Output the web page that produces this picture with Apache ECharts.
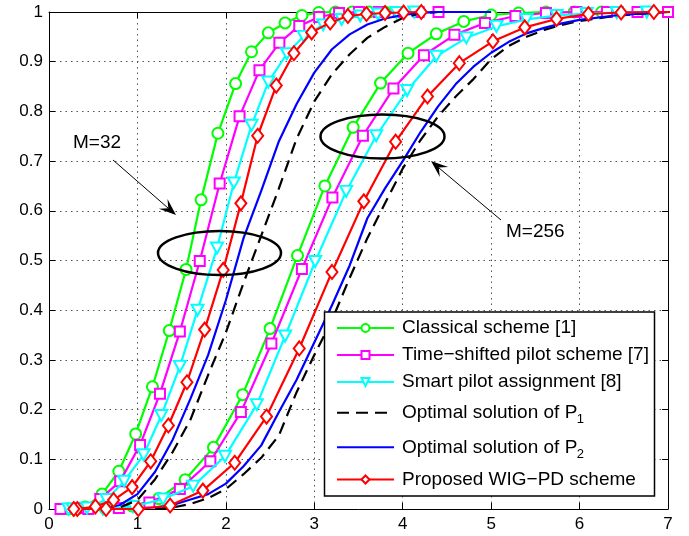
<!DOCTYPE html>
<html>
<head>
<meta charset="utf-8">
<script src="https://cdn.jsdelivr.net/npm/echarts@6/dist/echarts.min.js"></script>
<style>
html,body{margin:0;padding:0;background:#fff;}
#c{width:689px;height:536px;}
</style>
</head>
<body>
<div id="c"></div>
<script>
// ---- Data (x, CDF) ----
const names = [
  'Classical scheme [1]',
  'Time\u2212shifted pilot scheme [7]',
  'Smart pilot assignment [8]',
  'Optimal solution of P',
  'Optimal solution of P ',
  'Proposed WIG\u2212PD scheme'
];
const subscripts = ['', '', '', '1', '2', ''];
const xTicks = [0, 1, 2, 3, 4, 5, 6, 7];
const yTicks = [0, 0.1, 0.2, 0.3, 0.4, 0.5, 0.6, 0.7, 0.8, 0.9, 1];

// M = 32
const green32 = [[0.22,0],[0.41,0.004],[0.60,0.03],[0.79,0.076],[0.98,0.151],[1.17,0.246],[1.36,0.359],[1.55,0.482],[1.72,0.622],[1.91,0.756],[2.11,0.856],[2.29,0.92],[2.48,0.958],[2.67,0.978],[2.86,0.993],[3.05,0.999],[3.24,1],[3.43,1],[3.62,1],[3.80,1]];
const magenta32 = [[0.13,0],[0.355,0.002],[0.58,0.02],[0.805,0.056],[1.03,0.129],[1.255,0.232],[1.48,0.357],[1.705,0.499],[1.93,0.655],[2.155,0.79],[2.38,0.883],[2.605,0.938],[2.83,0.972],[3.055,0.99],[3.28,0.998],[3.505,1],[3.73,1],[3.955,1],[4.18,1],[4.405,1]];
const cyan32 = [[0.22,0],[0.43,0.002],[0.65,0.019],[0.85,0.056],[1.07,0.109],[1.27,0.188],[1.48,0.287],[1.68,0.40],[1.90,0.525],[2.09,0.656],[2.29,0.772],[2.48,0.859],[2.69,0.916],[2.88,0.951],[3.10,0.974],[3.31,0.985],[3.52,0.992],[3.72,0.996],[3.93,0.999],[4.13,1]];
const black32 = [[0.6,0],[0.8,0.003],[1.0,0.018],[1.2,0.06],[1.4,0.115],[1.6,0.18],[1.8,0.27],[2.0,0.355],[2.2,0.455],[2.4,0.55],[2.6,0.645],[2.8,0.745],[3.0,0.82],[3.2,0.875],[3.4,0.915],[3.6,0.948],[3.8,0.97],[4.0,0.988],[4.2,0.997],[4.4,1],[4.6,1]];
const blue32 = [[0.6,0],[0.8,0.008],[1.0,0.03],[1.2,0.075],[1.4,0.14],[1.6,0.222],[1.8,0.31],[2.0,0.42],[2.2,0.545],[2.4,0.64],[2.6,0.74],[2.8,0.815],[3.0,0.878],[3.2,0.925],[3.4,0.955],[3.6,0.975],[3.8,0.987],[4.0,0.994],[4.2,0.998],[4.4,1],[5.0,1]];
const red32 = [[0.32,0],[0.525,0.005],[0.73,0.018],[0.94,0.044],[1.15,0.096],[1.35,0.168],[1.56,0.255],[1.76,0.361],[1.97,0.481],[2.17,0.615],[2.36,0.751],[2.57,0.852],[2.77,0.917],[2.97,0.959],[3.18,0.979],[3.38,0.992],[3.59,0.996],[3.80,0.998],[4.01,0.999],[4.21,1]];

// M = 256
const green256 = [[0.32,0],[0.63,0.002],[0.94,0.006],[1.24,0.021],[1.54,0.059],[1.86,0.124],[2.19,0.23],[2.50,0.363],[2.81,0.51],[3.12,0.65],[3.44,0.768],[3.75,0.857],[4.06,0.917],[4.38,0.956],[4.69,0.981],[5.00,0.994],[5.31,0.998],[5.62,1],[5.94,1],[6.25,1]];
const magenta256 = [[0.445,0],[0.79,0.002],[1.135,0.013],[1.48,0.04],[1.825,0.096],[2.17,0.195],[2.515,0.333],[2.86,0.483],[3.205,0.627],[3.55,0.751],[3.895,0.846],[4.24,0.913],[4.585,0.954],[4.93,0.978],[5.275,0.992],[5.62,0.998],[5.965,1],[6.31,1],[6.655,1],[7.0,1]];
const cyan256 = [[0.27,0],[0.61,0],[0.95,0.005],[1.29,0.02],[1.63,0.046],[1.99,0.106],[2.35,0.21],[2.67,0.348],[3.01,0.498],[3.36,0.639],[3.70,0.751],[4.05,0.842],[4.38,0.911],[4.72,0.948],[5.06,0.971],[5.40,0.985],[5.74,0.993],[6.08,0.997],[6.42,0.999],[6.76,1]];
const black256 = [[1.2,0],[1.4,0.003],[1.6,0.01],[1.8,0.022],[2.0,0.04],[2.2,0.07],[2.4,0.103],[2.6,0.148],[2.8,0.235],[3.0,0.31],[3.2,0.38],[3.4,0.465],[3.6,0.545],[3.8,0.615],[4.0,0.685],[4.2,0.742],[4.4,0.79],[4.6,0.83],[4.8,0.865],[5.0,0.905],[5.2,0.932],[5.4,0.95],[5.6,0.964],[5.8,0.974],[6.0,0.982],[6.4,0.992],[6.8,0.998],[7.0,1]];
const blue256 = [[1.2,0.003],[1.4,0.008],[1.6,0.019],[1.8,0.03],[2.0,0.051],[2.2,0.086],[2.4,0.128],[2.6,0.195],[2.8,0.26],[3.0,0.335],[3.2,0.41],[3.4,0.49],[3.6,0.585],[3.8,0.645],[4.0,0.70],[4.2,0.758],[4.4,0.81],[4.6,0.855],[4.8,0.89],[5.0,0.918],[5.2,0.94],[5.4,0.957],[5.6,0.968],[5.8,0.977],[6.0,0.984],[6.4,0.993],[6.8,0.998],[7.0,1]];
const red256 = [[0.28,0],[0.645,0],[1.01,0],[1.37,0.007],[1.74,0.037],[2.10,0.093],[2.46,0.186],[2.83,0.323],[3.20,0.477],[3.56,0.619],[3.92,0.739],[4.28,0.83],[4.64,0.897],[5.02,0.941],[5.38,0.969],[5.74,0.986],[6.10,0.996],[6.47,0.999],[6.84,1],[7.2,1]];

// ---- Styles ----
const FONT = '"Liberation Sans", Arial, Helvetica, sans-serif';
const styles = [
  {color:'#00ff00', symbol:'circle', size:11, rotate:0},
  {color:'#ff00ff', symbol:'rect', size:10, rotate:0},
  {color:'#00ffff', symbol:'triangle', size:[12,11], rotate:180},
  {color:'#000000', symbol:'none', dash:[12,7]},
  {color:'#0000ff', symbol:'none'},
  {color:'#ff0000', symbol:'diamond', size:[11,14], rotate:0}
];

function mk(idx, data) {
  const s = styles[idx];
  const noSym = s.symbol === 'none';
  return {
    type: 'line', name: names[idx], data: data,
    symbol: noSym ? 'circle' : s.symbol, symbolSize: noSym ? 1 : s.size, symbolRotate: s.rotate || 0,
    showSymbol: !noSym, showAllSymbol: true, clip: true,
    lineStyle: {color: s.color, width: 2.2, type: s.dash ? s.dash : 'solid'},
    itemStyle: noSym ? {color: 'rgba(0,0,0,0)', borderColor: 'rgba(0,0,0,0)', borderWidth: 0}
                     : {color: '#ffffff', borderColor: s.color, borderWidth: 2},
    emphasis: {disabled: true}, z: 2 + idx * 0.01
  };
}

const series = [
  mk(0, green32), mk(1, magenta32), mk(2, cyan32), mk(3, black32), mk(4, blue32), mk(5, red32),
  mk(0, green256), mk(1, magenta256), mk(2, cyan256), mk(3, black256), mk(4, blue256), mk(5, red256)
];

// legend rows (icon centre y)
const legendRowsY = [328, 355, 382, 412.7, 447.3, 479.5];
const LEG_FS = 19;
const legends = names.map((n, i) => {
  const isSub = subscripts[i] !== '';
  return {
    data: [n], left: 336, orient: 'horizontal', padding: 0, itemGap: 0,
    itemWidth: 57, itemHeight: 10, selectedMode: false, z: 8,
    top: legendRowsY[i] - (isSub ? 14 : 10),
    textStyle: {fontSize: LEG_FS, fontFamily: FONT, color: '#000', lineHeight: 20,
      padding: isSub ? [0, 0, 8, 3] : [0, 0, 0, 3]}
  };
});

const chart = echarts.init(document.getElementById('c'), null, {renderer: 'canvas'});

const axisCommon = {
  type: 'value', min: 0,
  axisLine: {show: true, onZero: false, lineStyle: {color: '#000', width: 1}},
  axisTick: {show: true, inside: true, length: 6, lineStyle: {color: '#000'}},
};

chart.setOption({
  animation: false,
  backgroundColor: '#fff',
  grid: {left: 49, right: 21, top: 12, bottom: 27, containLabel: false},
  xAxis: [
    Object.assign({}, axisCommon, {
      max: 7, interval: 1, position: 'bottom',
      axisLabel: {color: '#000', fontSize: 17, fontFamily: FONT, margin: 7,
        formatter: v => xTicks.includes(v) ? String(v) : ''},
      splitLine: {show: true, lineStyle: {color: '#555', type: [1.5, 4], width: 1}}
    }),
    Object.assign({}, axisCommon, {
      max: 7, interval: 1, position: 'top',
      axisLabel: {show: false}, splitLine: {show: false}
    })
  ],
  yAxis: [
    Object.assign({}, axisCommon, {
      max: 1, interval: 0.1, position: 'left',
      axisLabel: {color: '#000', fontSize: 17, fontFamily: FONT, margin: 6,
        formatter: v => { const t = yTicks.find(k => Math.abs(k - v) < 1e-9); return t === undefined ? '' : String(t); }},
      splitLine: {show: true, lineStyle: {color: '#555', type: [1.5, 4], width: 1}}
    }),
    Object.assign({}, axisCommon, {
      max: 1, interval: 0.1, position: 'right',
      axisLabel: {show: false}, splitLine: {show: false}
    })
  ],
  legend: legends,
  series: series
});

// ---- Annotations (ellipses, arrows, labels, legend box, subscripts) ----
function arrowHead(sx, sy, tx, ty) {
  const dx = tx - sx, dy = ty - sy, L = Math.hypot(dx, dy);
  const ux = dx / L, uy = dy / L, nx = -uy, ny = ux;
  const hl = 17, hw = 6.5;
  return [
    [tx, ty],
    [tx - hl * ux + hw * nx, ty - hl * uy + hw * ny],
    [tx - 0.6 * hl * ux, ty - 0.6 * hl * uy],
    [tx - hl * ux - hw * nx, ty - hl * uy - hw * ny]
  ];
}
const a1 = {sx: 113, sy: 160, tx: 176, ty: 215};
const a2 = {sx: 501, sy: 220, tx: 431, ty: 161};

const ctx = document.createElement('canvas').getContext('2d');
ctx.font = LEG_FS + 'px ' + FONT;
const textStartX = 336 + 57 + 5 + 3;
const subGraphics = [];
names.forEach((n, i) => {
  if (!subscripts[i]) return;
  const w = ctx.measureText(n.trimEnd()).width;
  subGraphics.push({type: 'text', z: 9, x: textStartX + w + 0.5, y: legendRowsY[i] + 7,
    style: {text: subscripts[i], fontSize: 13, fontFamily: FONT, fill: '#000', verticalAlign: 'middle', align: 'left'}});
});

chart.setOption({
  graphic: [
    {type: 'rect', z: 7, shape: {x: 324.5, y: 312, width: 330, height: 184},
      style: {fill: '#fff', stroke: '#000', lineWidth: 1.5}},
    {type: 'ellipse', z: 6, shape: {cx: 219.5, cy: 253, rx: 61.5, ry: 22},
      style: {fill: 'none', stroke: '#000', lineWidth: 2.5}},
    {type: 'ellipse', z: 6, shape: {cx: 382.5, cy: 136.5, rx: 62, ry: 22},
      style: {fill: 'none', stroke: '#000', lineWidth: 2.5}},
    {type: 'line', z: 6, shape: {x1: a1.sx, y1: a1.sy, x2: a1.tx - 8, y2: a1.ty - 7},
      style: {stroke: '#000', lineWidth: 1}},
    {type: 'polygon', z: 6, shape: {points: arrowHead(a1.sx, a1.sy, a1.tx, a1.ty)},
      style: {fill: '#000'}},
    {type: 'line', z: 6, shape: {x1: a2.sx, y1: a2.sy, x2: a2.tx + 8, y2: a2.ty + 7},
      style: {stroke: '#000', lineWidth: 1}},
    {type: 'polygon', z: 6, shape: {points: arrowHead(a2.sx, a2.sy, a2.tx, a2.ty)},
      style: {fill: '#000'}},
    {type: 'text', z: 6, left: 73, top: 133,
      style: {text: 'M=32', fontSize: 19, fontFamily: FONT, fill: '#000'}},
    {type: 'text', z: 6, left: 506, top: 222,
      style: {text: 'M=256', fontSize: 19, fontFamily: FONT, fill: '#000'}}
  ].concat(subGraphics)
});
</script>
</body>
</html>
